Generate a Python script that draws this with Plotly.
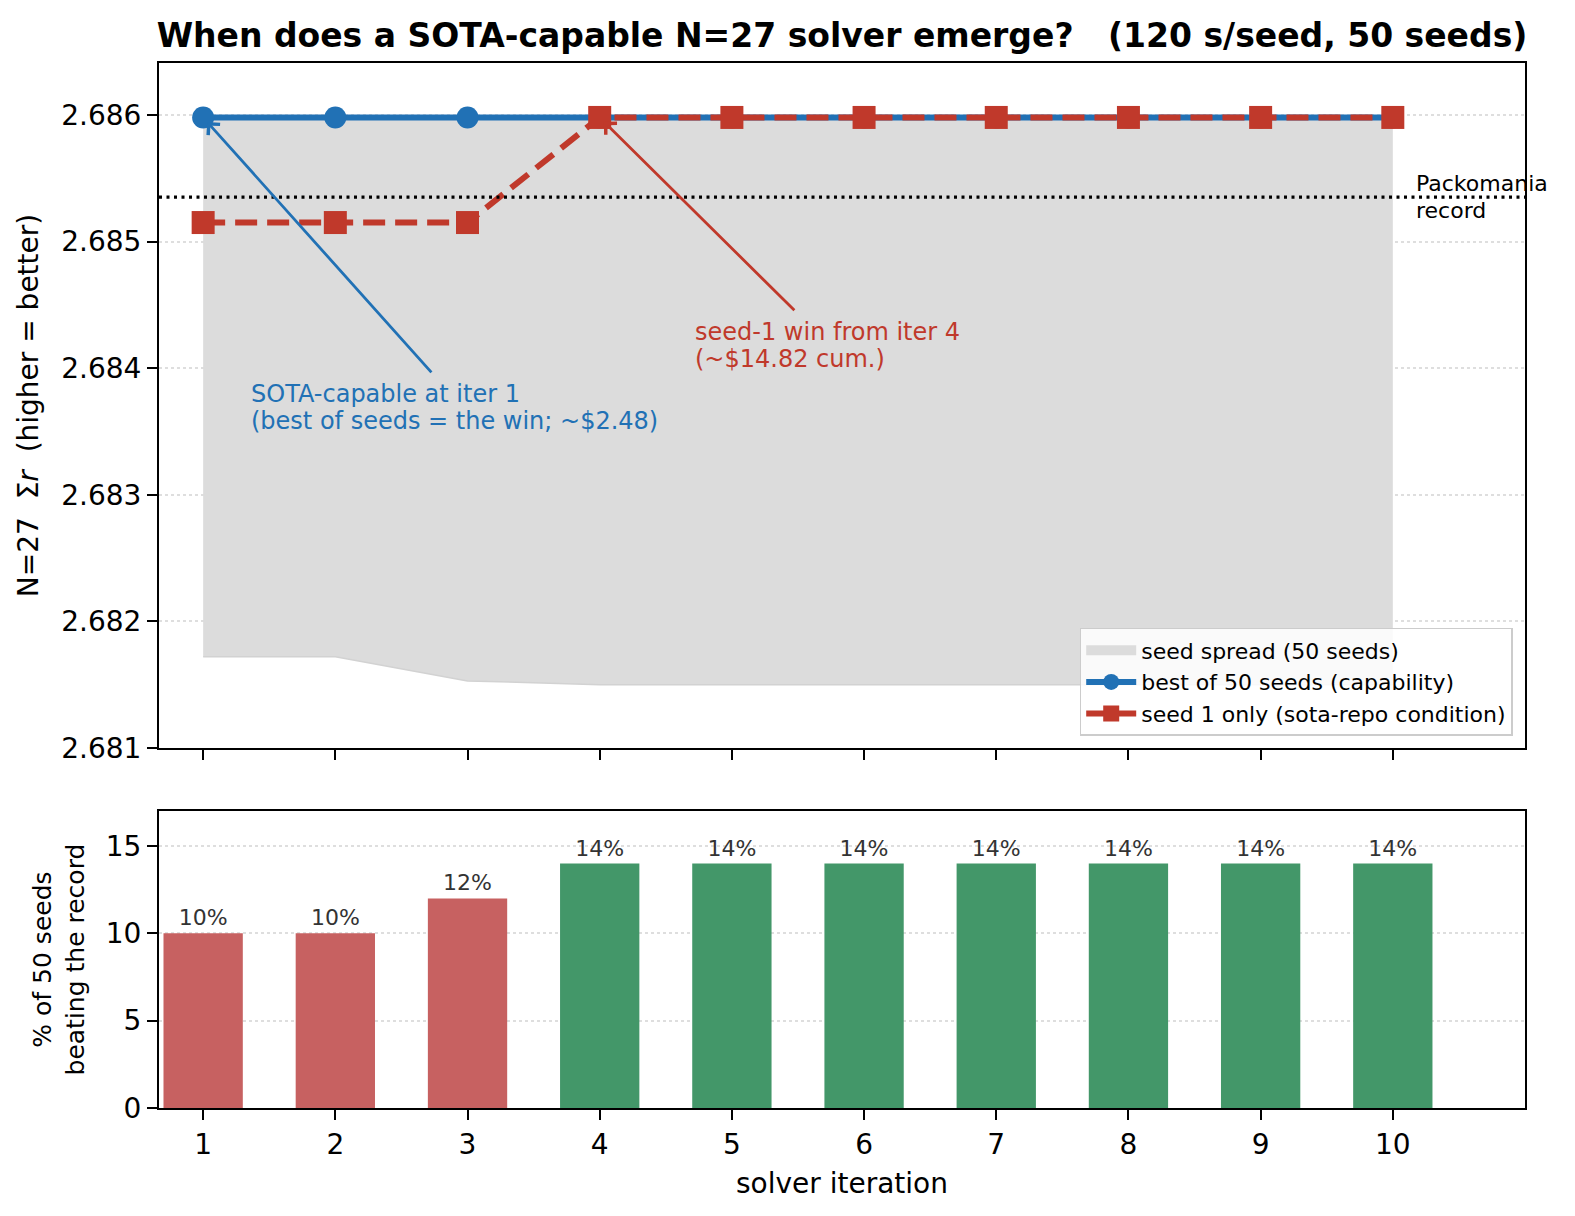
import plotly.graph_objects as go

# ---------------- data ----------------
iterations = [1, 2, 3, 4, 5, 6, 7, 8, 9, 10]
best_of_seeds = [2.68598] * 10
seed1_only = [2.68515, 2.68515, 2.68515, 2.68598, 2.68598, 2.68598, 2.68598, 2.68598, 2.68598, 2.68598]
spread_min = [2.68172, 2.68172, 2.68153, 2.68150, 2.68150, 2.68150, 2.68150, 2.68150, 2.68150, 2.68150]
spread_max = [2.68598] * 10
record = 2.68535
pct_beating = [10, 10, 12, 14, 14, 14, 14, 14, 14, 14]
top_yticks = [2.681, 2.682, 2.683, 2.684, 2.685, 2.686]
bottom_yticks = [0, 5, 10, 15]

FONT = "DejaVu Sans"
BLUE = "#2171b5"
RED = "#c0392b"
BAR_RED = "#c76161"
BAR_GREEN = "#439769"
GRID = "rgba(0,0,0,0.13)"

bar_colors = [BAR_GREEN if s > record else BAR_RED for s in seed1_only]

fig = go.Figure()

# seed spread band
fig.add_trace(go.Scatter(
    x=iterations, y=spread_min, mode="lines",
    line=dict(color="#d2d2d2", width=1.5),
    showlegend=False, hoverinfo="skip", xaxis="x", yaxis="y"))
fig.add_trace(go.Scatter(
    x=iterations, y=spread_max, mode="lines", fill="tonexty",
    fillcolor="#dcdcdc", line=dict(color="#d2d2d2", width=1.5),
    showlegend=False, hoverinfo="skip", xaxis="x", yaxis="y"))
# legend entry for the band
fig.add_trace(go.Scatter(
    x=[None], y=[None], mode="lines",
    line=dict(color="#dcdcdc", width=17),
    name="seed spread (50 seeds)", xaxis="x", yaxis="y"))

# best of seeds
fig.add_trace(go.Scatter(
    x=iterations, y=best_of_seeds, mode="lines+markers",
    line=dict(color=BLUE, width=6),
    marker=dict(symbol="circle", size=22, color=BLUE),
    name="best of 50 seeds (capability)", xaxis="x", yaxis="y"))

# seed 1 only
fig.add_trace(go.Scatter(
    x=iterations, y=seed1_only, mode="lines+markers",
    line=dict(color=RED, width=6, dash="22px,10px"),
    marker=dict(symbol="square", size=23, color=RED),
    name="seed 1 only (sota-repo condition)", xaxis="x", yaxis="y"))

# bars
fig.add_trace(go.Bar(
    x=iterations, y=pct_beating, width=0.6,
    marker=dict(color=bar_colors, line=dict(width=0)),
    text=[f"{v}%" for v in pct_beating], textposition="outside",
    textfont=dict(family=FONT, size=22, color="#333333"),
    cliponaxis=False, showlegend=False, xaxis="x2", yaxis="y2"))

# record line
fig.add_shape(type="line", xref="x domain", x0=0, x1=1, yref="y", y0=record, y1=record,
              line=dict(color="black", width=3.2, dash="3px,4.5px"), layer="above")


def multiline(lines, x, y, color, size, spacing, xref="x", yref="y"):
    n = len(lines)
    for i, t in enumerate(lines):
        shift = ((n - 1) / 2 - i) * spacing
        fig.add_annotation(x=x, y=y, xref=xref, yref=yref, text=t, showarrow=False,
                           xanchor="left", yanchor="middle", yshift=shift,
                           font=dict(family=FONT, size=size, color=color))


# Packomania record label
multiline(["Packomania", "record"], 10.16, record, "black", 22, 27)

# blue annotation
fig.add_annotation(x=1, y=best_of_seeds[0], ax=2.737, ay=2.683955, axref="x", ayref="y",
                   xref="x", yref="y", text="", showarrow=True, arrowhead=4,
                   arrowsize=1.1, arrowwidth=2.8, arrowcolor=BLUE, standoff=6)
multiline(["SOTA-capable at iter 1", "(best of seeds = the win; ~$2.48)"],
          1.349, 2.683686, BLUE, 24, 27)

# red annotation
fig.add_annotation(x=4, y=seed1_only[3], ax=5.484, ay=2.684445, axref="x", ayref="y",
                   xref="x", yref="y", text="", showarrow=True, arrowhead=4,
                   arrowsize=1.1, arrowwidth=2.8, arrowcolor=RED, standoff=6)
multiline(["seed-1 win from iter 4", "(~$14.82 cum.)"],
          4.703, 2.68418, RED, 24, 27)

axis_common = dict(showline=True, mirror=True, linecolor="black", linewidth=2,
                   ticks="outside", ticklen=10, tickwidth=2, tickcolor="black",
                   tickfont=dict(family=FONT, size=28, color="black"), zeroline=False)

fig.update_layout(
    width=1575, height=1216,
    margin=dict(l=151, r=58, t=55, b=116),
    paper_bgcolor="white", plot_bgcolor="white",
    font=dict(family=FONT, color="black"),
    title=dict(text="<b>When does a SOTA-capable N=27 solver emerge?   (120 s/seed, 50 seeds)</b>",
               x=0.5, xref="paper", xanchor="center", y=1 - 27 / 1216, yref="container",
               yanchor="middle", font=dict(family=FONT, size=33, color="black")),
    xaxis=dict(domain=[0, 1], range=[0.666, 11.0], anchor="y",
               tickvals=iterations, showticklabels=False, showgrid=False, **axis_common),
    yaxis=dict(domain=[0.3445, 1], range=[2.681, 2.68641], anchor="x",
               tickvals=top_yticks, tickformat=".3f",
               showgrid=True, gridcolor=GRID, griddash="dot", gridwidth=1.5,
               title=dict(text="N=27  Σ<i>r</i>  (higher = better)",
                          font=dict(family=FONT, size=28), standoff=14),
               **axis_common),
    xaxis2=dict(domain=[0, 1], range=[0.666, 11.0], anchor="y2",
                tickvals=iterations, showgrid=False,
                title=dict(text="solver iteration", font=dict(family=FONT, size=28), standoff=14),
                **axis_common),
    yaxis2=dict(domain=[0, 0.2841], range=[0, 17], anchor="x2",
                tickvals=bottom_yticks,
                showgrid=True, gridcolor=GRID, griddash="dot", gridwidth=1.5,
                title=dict(text="% of 50 seeds<br>beating the record",
                           font=dict(family=FONT, size=25), standoff=14),
                **axis_common),
    legend=dict(x=0.991, y=0.356, xanchor="right", yanchor="bottom",
                traceorder="normal",
                bgcolor="rgba(255,255,255,0.85)", bordercolor="#cccccc", borderwidth=1.5,
                font=dict(family=FONT, size=22, color="black"), itemwidth=50,
                tracegroupgap=0),
    showlegend=True,
)

fig.write_html("out.html")
